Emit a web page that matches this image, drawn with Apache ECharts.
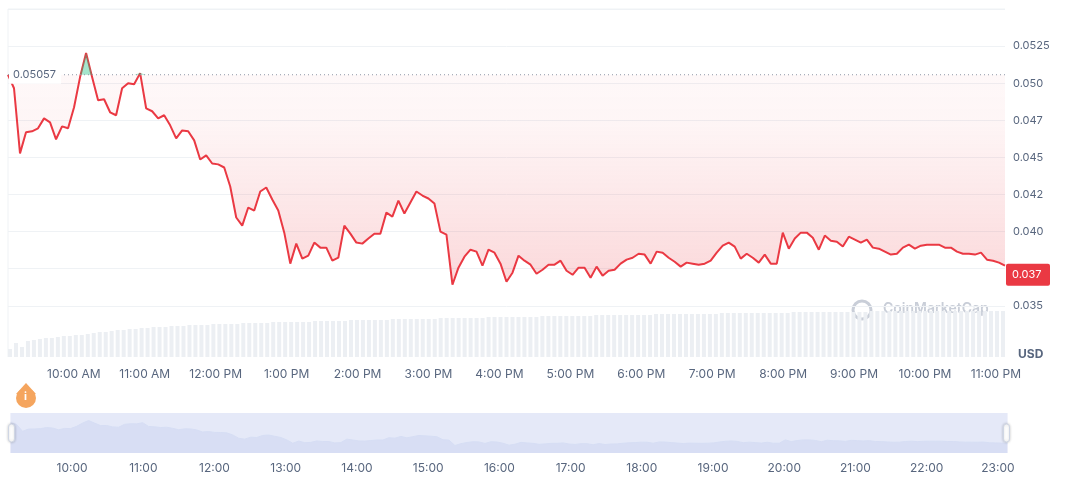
<!DOCTYPE html>
<html><head><meta charset="utf-8">
<script src="https://cdn.jsdelivr.net/npm/echarts@6/dist/echarts.min.js"></script>
<style>html,body{margin:0;padding:0;background:#fff}#c{width:1072px;height:477px}</style>
</head><body><div id="c"></div>
<script>
const startTime = '2024-01-01T09:06:00';
const endTime = '2024-01-01T23:06:00';
const baseline = 0.05057;
const lastPrice = 0.0371;
const prices = [
0.05057,0.04966,0.04527,0.04669,0.04676,0.04696,0.04763,0.04736,0.04622,0.04709,
0.04696,0.04838,0.05041,0.05203,0.05041,0.04885,0.04892,0.04804,0.04784,0.04966,
0.05000,0.04993,0.05068,0.04831,0.04811,0.04763,0.04784,0.04716,0.04628,0.04682,
0.04676,0.04615,0.04486,0.04514,0.04459,0.04453,0.04432,0.04304,0.04095,0.04040,
0.04162,0.04142,0.04270,0.04297,0.04216,0.04142,0.03993,0.03784,0.03919,0.03818,
0.03838,0.03926,0.03892,0.03892,0.03804,0.03824,0.04040,0.03986,0.03926,0.03919,
0.03953,0.03986,0.03986,0.04128,0.04101,0.04209,0.04122,0.04196,0.04270,0.04243,
0.04223,
0.04189,0.04000,0.03980,0.03642,0.03757,0.03831,0.03878,0.03865,0.03770,0.03878,
0.03858,0.03784,0.03662,0.03723,0.03838,0.03804,0.03777,0.03716,0.03743,0.03777,
0.03777,0.03804,0.03736,0.03709,0.03757,0.03757,0.03689,0.03764,0.03703,0.03736,
0.03743,0.03784,0.03811,0.03824,0.03851,0.03845,0.03784,0.03865,0.03858,0.03824,
0.03797,0.03764,0.03791,0.03784,0.03777,0.03784,0.03804,0.03858,0.03905,0.03926,
0.03899,0.03818,0.03851,0.03824,0.03791,0.03845,0.03784,0.03784,0.03993,0.03885,
0.03953,0.03993,0.03993,0.03959,0.03878,0.03973,0.03939,0.03932,0.03899,0.03966,
0.03946,0.03926,0.03946,0.03892,0.03885,0.03865,0.03845,0.03851,0.03892,0.03912,
0.03885,0.03905,0.03912,0.03912,0.03912,0.03892,0.03892,0.03865,0.03851,0.03851,
0.03845,0.03858,0.03811,0.03804,0.03791,0.03770];
const volumes = [
8,14,10,16,17,18,19,19,20,21, 21,22,22,23,24,25,25,26,27,27,
28,28,29,29,30,30,30,31,31,31, 32,32,32,32,33,33,33,33,33,34,
34,34,34,34,35,35,35,35,35,35, 35,36,36,36,36,36,36,37,37,37,
37,37,37,37,38,38,38,38,38,38, 38,38,39,39,39,39,39,39,39,39,
40,40,40,40,40,40,40,40,40,41, 41,41,41,41,41,41,41,41,42,42,
42,42,42,42,42,42,42,42,43,43, 43,43,43,43,43,43,43,43,43,44,
44,44,44,44,44,44,44,44,44,44, 44,45,45,45,45,45,45,45,45,45,
45,45,45,45,46,46,46,46,46,46, 46,46,46,46,46,46,46,46,46,46,
46,46,46,46,46,46,46];

const t0 = new Date(startTime).getTime(), t1 = new Date(endTime).getTime();
const step = (t1 - t0) / (prices.length - 1);
const priceData = prices.map((v,i)=>[t0+i*step, v]);
const volData = volumes.map((v,i)=>[t0+i*step, v]);
const aboveData = prices.map((v,i)=>[t0+i*step, Math.max(v, baseline)]);
const grey = '#58667e';
function ampm(v){const d=new Date(v);let h=d.getHours();const ap=h>=12?'PM':'AM';h=h%12;if(h===0)h=12;return h+':00 '+ap;}
function hm(v){const d=new Date(v);return String(d.getHours()).padStart(2,'0')+':00';}
const chart = echarts.init(document.getElementById('c'));
chart.setOption({
  animation:false,
  grid:[
    {left:8,right:67,top:9,bottom:97},
    {left:8,right:67,top:307,bottom:120},
    {left:8,right:67,top:413,bottom:24}
  ],
  xAxis:[
    {type:'time',gridIndex:0,min:t0,max:t1,show:false},
    {type:'time',gridIndex:1,min:t0,max:t1,minInterval:3600000,maxInterval:3600000,
     axisLine:{show:false},axisTick:{show:false},splitLine:{show:false},
     axisLabel:{formatter:ampm,color:grey,fontSize:12,margin:11,hideOverlap:false,fontFamily:'Inter'}},
    {type:'time',gridIndex:2,min:t0,max:t1,minInterval:3600000,maxInterval:3600000,
     axisLine:{show:false},axisTick:{show:false},splitLine:{show:false},
     axisLabel:{formatter:hm,color:grey,fontSize:12,margin:9,fontFamily:'Inter'}}
  ],
  yAxis:[
    {type:'value',gridIndex:0,position:'right',min:0.03,max:0.055,interval:0.0025,
     axisLine:{show:false},axisTick:{show:false},
     splitLine:{lineStyle:{color:['transparent','transparent','#eff2f5','#eff2f5','#eff2f5','#eff2f5','#eff2f5','#eff2f5','#eff2f5','#eff2f5','#eff2f5']}},
     axisLabel:{color:grey,fontSize:11,margin:8,fontFamily:'Inter',formatter:v=>{
       if(v<0.0349||v>0.053) return '';
       if(Math.abs(v-0.0525)<1e-6) return '0.0525';
       return (Math.floor(v*1000+1e-6)/1000).toFixed(3);}}},
    {type:'value',gridIndex:1,min:0,max:50,show:false},
    {type:'value',gridIndex:2,show:false}
  ],
  series:[
    {type:'line',xAxisIndex:0,yAxisIndex:0,data:priceData,symbol:'none',silent:true,
     lineStyle:{width:0},
     areaStyle:{origin:baseline,color:new echarts.graphic.LinearGradient(0,0,0,1,[
       {offset:0,color:'rgba(234,57,67,0.04)'},{offset:0.3,color:'rgba(234,57,67,0.07)'},{offset:1,color:'rgba(234,57,67,0.28)'}])}},
    {type:'bar',xAxisIndex:1,yAxisIndex:1,data:volData,barWidth:4,itemStyle:{color:'#eceff3'},silent:true},
    {type:'line',xAxisIndex:0,yAxisIndex:0,data:aboveData,symbol:'none',silent:true,z:3,
     lineStyle:{width:0},areaStyle:{origin:baseline,color:'rgba(22,199,132,0.55)'}},
    {type:'line',xAxisIndex:0,yAxisIndex:0,data:priceData,symbol:'none',z:2,lineStyle:{width:2,color:'#ea3943'},itemStyle:{color:'#ea3943'}},
    {type:'line',xAxisIndex:2,yAxisIndex:2,data:priceData,symbol:'none',lineStyle:{opacity:0},silent:true}
  ],
  dataZoom:[{type:'slider',xAxisIndex:[2],start:0,end:100,left:8,right:67,top:413,height:40,
    backgroundColor:'#eef1fb',borderColor:'transparent',fillerColor:'rgba(214,222,245,0.4)',
    showDetail:false,brushSelect:false,
    dataBackground:{lineStyle:{color:'#d6ddf3',width:1},areaStyle:{color:'#d9def3',opacity:1}},
    selectedDataBackground:{lineStyle:{color:'#d6ddf3',width:1},areaStyle:{color:'#d9def3',opacity:1}},
    handleIcon:'path://M-5,-10 a5,5 0 0 1 10,0 v20 a5,5 0 0 1 -10,0 z',handleSize:'45%',
    handleStyle:{color:'#fff',borderColor:'#cfd6e4',shadowBlur:3,shadowColor:'rgba(0,0,0,0.2)'},
    moveHandleSize:0}],
  graphic:[
    {id:'usd',type:'text',left:1018,top:348,style:{text:'USD',fill:grey,font:'bold 12px Inter'}},
    {id:'cmc',type:'text',left:883,top:302,style:{text:'CoinMarketCap',fill:'#c9ced8',font:'600 14px Inter'}},
    {id:'cmcl',type:'circle',shape:{cx:862,cy:310,r:9},style:{fill:'none',stroke:'#c9ced8',lineWidth:3}},
    {id:'drop1',type:'polygon',shape:{points:[[26,383],[16,394],[36,394]]},style:{fill:'#f5a55e'}},
    {id:'drop2',type:'circle',shape:{cx:26,cy:398,r:10},style:{fill:'#f5a55e'}},
    {id:'dropi',type:'text',x:24,y:391,style:{text:'i',fill:'#fff',font:'bold 11px Inter'}},
    {id:'lb',type:'line',shape:{x1:8,y1:9,x2:8,y2:357},style:{stroke:'#eff2f5',lineWidth:1}},
    {id:'tb',type:'line',shape:{x1:8,y1:9,x2:1005,y2:9},style:{stroke:'#eff2f5',lineWidth:1}}
  ]
});
const yBase = chart.convertToPixel({yAxisIndex:0}, baseline);
const yLast = chart.convertToPixel({yAxisIndex:0}, lastPrice);
chart.setOption({graphic:[
  {id:'bl',type:'line',shape:{x1:8,y1:yBase,x2:1005,y2:yBase},style:{stroke:'#8f97a6',lineWidth:1,lineDash:[1,3]},z:5},
  {id:'blr',type:'rect',shape:{x:9,y:yBase-9,width:52,height:18},style:{fill:'#fff'},z:6},
  {id:'blt',type:'text',x:13,y:yBase,style:{text:'0.05057',fill:grey,font:'11px Inter',verticalAlign:'middle'},z:7},
  {id:'lr',type:'rect',shape:{x:1006,y:yLast-11,width:44,height:22,r:2},style:{fill:'#ea3943'},z:6},
  {id:'lt',type:'text',x:1012,y:yLast,style:{text:'0.037',fill:'#fff',font:'11px Inter',verticalAlign:'middle'},z:7}
]});
</script></body></html>
